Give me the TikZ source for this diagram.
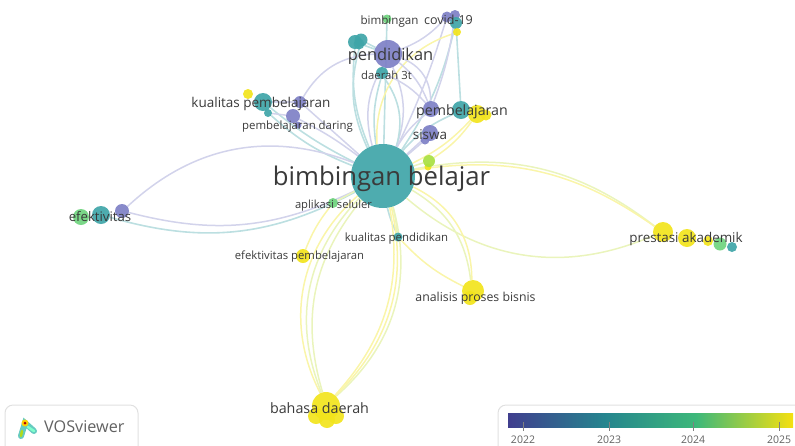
\documentclass[tikz,border=0pt]{standalone}
\usepackage{fontspec}
\setmainfont{Open Sans}
\usetikzlibrary{backgrounds}
\definecolor{pur}{HTML}{7E80C6}
\definecolor{tea}{HTML}{3FA5A8}
\definecolor{gre}{HTML}{6FD47E}
\definecolor{lim}{HTML}{A8E040}
\definecolor{yel}{HTML}{F2E41C}
\definecolor{labelgray}{HTML}{3A3A3A}
\definecolor{yearA}{HTML}{403E8E}
\definecolor{yearB}{HTML}{25858E}
\definecolor{yearC}{HTML}{3DB87A}
\definecolor{yearD}{HTML}{F5E010}
\pgfdeclarehorizontalshading{yearbar}{100bp}{
  color(0bp)=(yearA); color(25bp)=(yearA); color(42bp)=(yearB); color(58bp)=(yearC);
  color(75bp)=(yearD); color(100bp)=(yearD)}

\begin{document}
\begin{tikzpicture}[x=1pt,y=-1pt,
    main node/.style={circle,inner sep=0pt,minimum size=#1,fill opacity=.92},
    pnode/.style={main node=#1,fill=pur},
    tnode/.style={main node=#1,fill=tea},
    gnode/.style={main node=#1,fill=gre},
    ynode/.style={main node=#1,fill=yel},
    lnode/.style={main node=#1,fill=lim},
    term/.style={text=labelgray,inner sep=0pt,font=\fontsize{#1}{#1}\selectfont},
    plink/.style={draw=pur!35,line width=1.5pt},
    tlink/.style={draw=tea!35,line width=1.6pt},
    glink/.style={draw=gre!35!yel!35,line width=1.5pt},
    ylink/.style={draw=yel!38,line width=1.5pt},
    tickmark/.style={draw=gray,line width=.6pt},
    panel/.style={draw=black!12,line width=1pt,rounded corners=8pt}]

  \clip (0,0) rectangle (795,445);

  % centre and upper terms
  \node[tnode=64pt] (bb) at (383,176) {};
  \node[pnode=28pt] (pend) at (388,54) {};
  \node[tnode=14pt] (cl1) at (355,42) {};
  \node[tnode=13pt] (cl2) at (361,40) {};
  \node[tnode=11pt] (cl3) at (359,44) {};
  \node[gnode=9pt] (bimb) at (387,19) {};
  \node[pnode=11pt] (cov1) at (447,17) {};
  \node[pnode=10pt] (cov2) at (455,15) {};
  \node[tnode=12pt] (cov3) at (456,23) {};
  \node[ynode=8pt] (cov4) at (457,32) {};
  \node[tnode=12pt] (d3t) at (382,73) {};

  % right of centre
  \node[pnode=16pt] (pemb1) at (431,109) {};
  \node[tnode=18pt] (pemb2) at (461,110) {};
  \node[ynode=18pt] (pemb3) at (477,114) {};
  \node[ynode=11pt] (pemb4) at (486,115) {};
  \node[pnode=16pt] (sis1) at (430,133) {};
  \node[pnode=9pt] (sis2) at (425,140) {};
  \node[ynode=7pt] (lim2) at (428,167) {};
  \node[lnode=12pt] (lim1) at (429,161) {};

  % left of centre
  \node[ynode=10pt] (kual1) at (248,94) {};
  \node[tnode=18pt] (kual2) at (263,102) {};
  \node[tnode=8pt] (kual3) at (268,113) {};
  \node[pnode=12pt] (kual4) at (300,102) {};
  \node[pnode=14pt] (dar1) at (293,116) {};
  \node[pnode=7pt] (dar2) at (298,125) {};
  \node[pnode=14pt] (ef1) at (122,211) {};
  \node[tnode=18pt] (ef2) at (101,215) {};
  \node[gnode=16pt] (ef3) at (81,217) {};

  % lower terms
  \node[gnode=10pt] (apl) at (333,203) {};
  \node[tnode=9pt] (kpen) at (398,237) {};
  \node[ynode=14pt] (epem) at (303,256) {};
  \node[ynode=22pt] (anal) at (473,291) {};
  \node[ynode=14pt] (anal2) at (470,298) {};
  \node[ynode=28pt] (bah1) at (326,406) {};
  \node[ynode=16pt] (bah2) at (316,416) {};
  \node[ynode=16pt] (bah3) at (336,416) {};
  \node[ynode=16pt] (bah4) at (327,420) {};
  \node[ynode=20pt] (pres1) at (663,232) {};
  \node[ynode=18pt] (pres2) at (687,238) {};
  \node[ynode=10pt] (pres3) at (708,241) {};
  \node[gnode=13pt] (pres4) at (720,244) {};
  \node[tnode=10pt] (pres5) at (732,247) {};

  \begin{pgfonlayer}{background}
    \path
      (bb) edge[plink,bend right=22] (pend)
      (bb) edge[plink,bend left=22] (pend)
      (bb) edge[tlink] (bimb)
      (bb) edge[tlink,bend left=12] (d3t)
      (bb) edge[tlink,bend right=25] (d3t)
      (bb) edge[tlink,bend left=14] (cl1)
      (bb) edge[tlink,bend left=20] (cl2)
      (bb) edge[plink,bend right=4] (cov1)
      (bb) edge[tlink,bend right=10] (cov3)
      (bb) edge[ylink,bend left=38] (cov4)
      (pend) edge[plink,bend right=12] (cov1)
      (pend) edge[tlink] (cl2)
      (pend) edge[tlink] (cl1)
      (pend) edge[plink,bend right=28] (kual4)
      (pend) edge[plink,bend left=14] (pemb1)
      (pend) edge[plink,bend left=35] (pemb1)
      (cov2) edge[plink,bend left=6] (pemb1)
      (cov3) edge[tlink] (pemb2)
      (d3t) edge[plink,bend left=12] (pemb1)
      (bb) edge[plink,bend left=10] (pemb1)
      (bb) edge[tlink,bend left=12] (pemb2)
      (bb) edge[ylink,bend right=10] (pemb3)
      (lim1) edge[ylink,bend right=10] (pemb3)
      (bb) edge[plink] (sis1)
      (bb) edge[plink] (sis2)
      (bb) edge[glink] (lim1)
      (bb) edge[tlink,bend left=6] (kual2)
      (bb) edge[tlink,bend left=10] (kual3)
      (bb) edge[plink] (kual4)
      (bb) edge[plink,bend right=5] (dar1)
      (dar1) edge[plink] (kual3)
      (kual4) edge[plink] (kual2)
      (bb) edge[plink,bend right=32] (ef1)
      (bb) edge[plink,bend left=20] (ef1)
      (bb) edge[tlink,bend left=22] (ef2)
      (bb) edge[glink,bend left=24] (pres1)
      (bb) edge[ylink,bend left=22] (pres1)
      (bb) edge[glink,bend right=32] (pres1)
      (bb) edge[glink] (apl)
      (bb) edge[tlink,bend right=6] (kpen)
      (bb) edge[glink,bend left=4] (kpen)
      (apl) edge[ylink,bend right=8] (epem)
      (bb) edge[glink,bend left=26] (anal)
      (bb) edge[ylink,bend left=32] (anal)
      (kpen) edge[ylink,bend right=10] (anal)
      (bb) edge[ylink,bend right=38] (bah1)
      (bb) edge[glink,bend right=33] (bah1)
      (bb) edge[glink,bend right=28] (bah1)
      (bb) edge[glink,bend left=32] (bah1)
      (bb) edge[ylink,bend left=29] (bah1)
      (bb) edge[ylink,bend left=26] (bah1);
  \end{pgfonlayer}

  % labels
  \node[term=25.7] (tbb) at (381.5,179) {bimbingan belajar};
  \node[term=16.4] (tpend) at (390.5,56) {pendidikan};
  \node[term=11.6] (tbimb) at (389.5,21) {bimbingan};
  \node[term=12.5] (tcov) at (448.5,20) {covid-19};
  \node[term=11.3] (td3t) at (386.5,75) {daerah 3t};
  \node[term=14.2] (tpemb) at (462,112) {pembelajaran};
  \node[term=13.5] (tsis) at (430,135) {siswa};
  \node[term=13.5] (tkual) at (261,104) {kualitas pembelajaran};
  \node[term=11.4] (tdar) at (297.5,127) {pembelajaran daring};
  \node[term=13.2] (tef) at (100,217) {efektivitas};
  \node[term=11.2] (tapl) at (333.5,206) {aplikasi seluler};
  \node[term=11.4] (tkpen) at (396.5,239) {kualitas pendidikan};
  \node[term=11.3] (tepem) at (299.5,257) {efektivitas pembelajaran};
  \node[term=12.3] (tanal) at (475.5,298) {analisis proses bisnis};
  \node[term=14.3] (tbah) at (319.5,408) {bahasa daerah};
  \node[term=13.4] (tpres) at (686,239) {prestasi akademik};

  % VOSviewer badge
  \draw[panel] (5,405) rectangle (138,460);
  \draw[cyan!55!green!60,line width=6pt,line cap=round] (21,436) -- (25,423) -- (34,431);
  \draw[yellow!70!green,line width=2.5pt,line cap=round] (21,436) -- (22,431);
  \draw[green!40!cyan!50,line width=2.5pt,line cap=round] (28,427) -- (34,431);
  \fill[yellow!70!orange] (25,423) circle (3.5);
  \fill[red!70!black] (25,423) circle (1.5);
  \node[text=black!62,inner sep=0pt,anchor=west,font=\fontsize{16.2}{16.2}\selectfont] (vos) at (44,427) {VOSviewer};

  % year scale
  \draw[panel] (498,405) rectangle (810,460);
  \shade[shading=yearbar] (508,413) rectangle (793,427);
  \foreach \yrx/\yr in {523/2022,609/2023,693/2024,779/2025}{
    \draw[tickmark] (\yrx,422) -- (\yrx,431);
    \node[text=black!62,inner sep=0pt,font=\fontsize{10.5}{10.5}\selectfont] (y\yr) at (\yrx,440) {\yr};
  }
\end{tikzpicture}
\end{document}
